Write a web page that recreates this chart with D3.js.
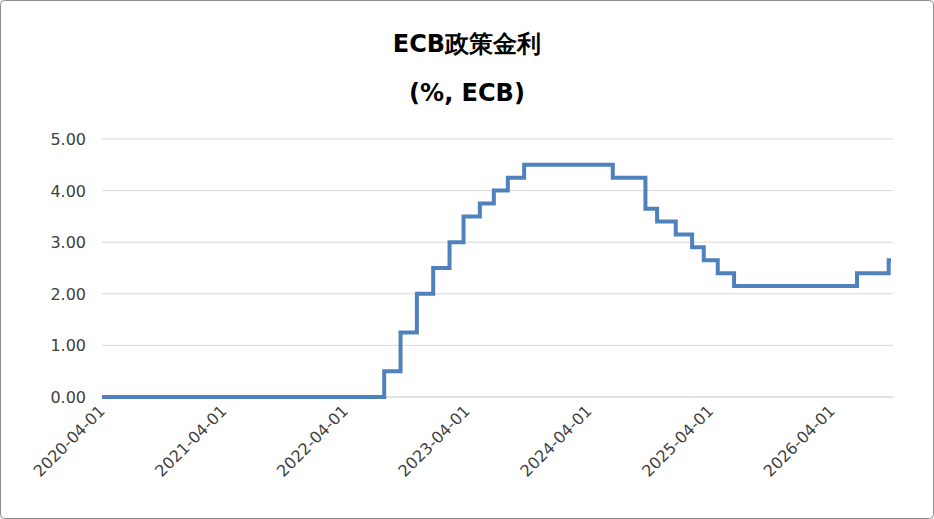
<!DOCTYPE html>
<html><head><meta charset="utf-8">
<script src="https://cdn.jsdelivr.net/npm/d3@7"></script>
<style>body{margin:0;background:#fff}</style>
</head><body>
<svg id="chart"></svg>
<script>
// step dates and rate from that date onward
const stepDates = ["2020-04-01","2022-07-27","2022-09-14","2022-11-02","2022-12-21","2023-02-08","2023-03-22","2023-05-10","2023-06-21","2023-08-02","2023-09-20","2024-06-12","2024-09-18","2024-10-23","2024-12-18","2025-02-05","2025-03-12","2025-04-23","2025-06-11","2026-06-15","2026-09-18"];
const stepRates = [0,0.5,1.25,2.0,2.5,3.0,3.5,3.75,4.0,4.25,4.5,4.25,3.65,3.4,3.15,2.9,2.65,2.4,2.15,2.4,2.65];
const endDate = "2026-09-25";
const xTicks = ["2020-04-01","2021-04-01","2022-04-01","2023-04-01","2024-04-01","2025-04-01","2026-04-01"];
const yTicks = [0,1,2,3,4,5];

const width = 934, height = 519;
const parse = d3.timeParse("%Y-%m-%d");
const svg = d3.select("#chart").attr("width", width).attr("height", height)
    .style("font-family", "Verdana, DejaVu Sans, sans-serif");

svg.append("rect").attr("x", 0.5).attr("y", 0.5).attr("width", width - 1).attr("height", height - 1)
    .attr("rx", 4).attr("fill", "#fff").attr("stroke", "#8c8c8c");

const x = d3.scaleTime().domain([parse("2020-04-01"), parse("2026-10-01")]).range([102, 893]);
const y = d3.scaleLinear().domain([0, 5]).range([397, 139]);

// gridlines
svg.append("g").selectAll("line").data(yTicks).enter().append("line")
    .attr("x1", 102).attr("x2", 893).attr("y1", d => y(d)).attr("y2", d => y(d))
    .attr("stroke", "#d9d9d9");

svg.append("g").selectAll("text").data(yTicks).enter().append("text")
    .attr("x", 86).attr("y", d => y(d) + 6).attr("text-anchor", "end")
    .style("font-size", "16px").attr("fill", "#404040")
    .text(d => d.toFixed(2));

// x axis line and labels
svg.append("line").attr("x1", 102).attr("x2", 893).attr("y1", 397).attr("y2", 397).attr("stroke", "#d9d9d9");
svg.append("g").selectAll("text").data(xTicks).enter().append("text")
    .attr("transform", d => `translate(${x(parse(d)) + 4},${412}) rotate(-45)`)
    .attr("text-anchor", "end")
    .style("font-size", "16px").attr("fill", "#404040")
    .text(d => d);

const pts = stepDates.map((d, i) => ({ date: parse(d), v: stepRates[i] }));
pts.push({ date: parse(endDate), v: stepRates[stepRates.length - 1] });
const line = d3.line().x(d => x(d.date)).y(d => y(d.v)).curve(d3.curveStepAfter);
svg.append("path").datum(pts).attr("d", line)
    .attr("fill", "none").attr("stroke", "#4f81bd").attr("stroke-width", 4);

svg.append("text").attr("x", width / 2).attr("y", 52).attr("text-anchor", "middle")
    .style("font-size", "24px").style("font-weight", "bold").attr("fill", "#000")
    .text("ECB政策金利");
svg.append("text").attr("x", width / 2).attr("y", 101).attr("text-anchor", "middle")
    .style("font-size", "24px").style("font-weight", "bold").attr("fill", "#000")
    .text("(%, ECB)");
</script>
</body></html>
